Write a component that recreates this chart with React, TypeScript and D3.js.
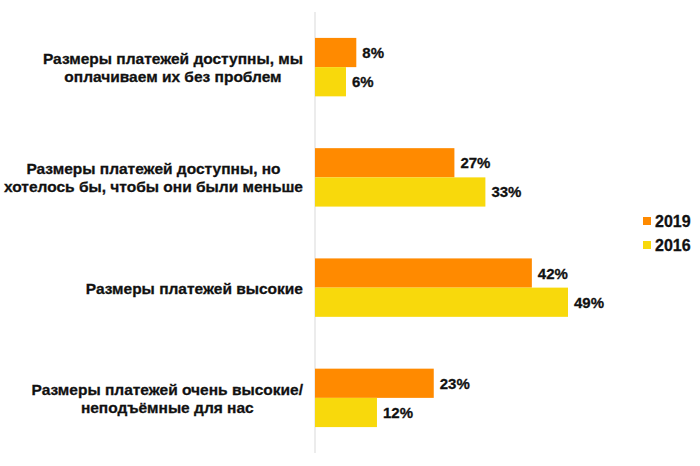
import React from "react";
import * as d3 from "d3";

const categories: string[][] = [
  ["Размеры платежей доступны, мы", "оплачиваем их без проблем"],
  ["Размеры платежей доступны, но", "хотелось бы, чтобы они были меньше"],
  ["Размеры платежей высокие"],
  ["Размеры платежей очень высокие/", "неподъёмные для нас"],
];
const seriesNames = ["2019", "2016"];
const values2019 = [8, 27, 42, 23];
const values2016 = [6, 33, 49, 12];
const colors = ["#FF8A00", "#F8D90C"];

const W = 700;
const H = 466;
const FONT = "'Liberation Sans', Arial, sans-serif";

function measure(text: string, size: number): number {
  const c = document.createElement("canvas").getContext("2d");
  if (!c) return text.length * size * 0.6;
  c.font = `bold ${size}px ${FONT}`;
  return c.measureText(text).width;
}

export default function App() {
  const x0 = 315;
  const x = d3.scaleLinear().domain([0, 49]).range([x0, 568]);
  const y = d3
    .scaleBand<number>()
    .domain(d3.range(categories.length))
    .range([12, 453])
    .paddingInner(0.47)
    .paddingOuter(0.235);
  const inner = d3
    .scaleBand<number>()
    .domain([0, 1])
    .range([0, y.bandwidth()]);
  const series = [values2019, values2016];
  const labelSize = 15.5;
  const lineH = 18;
  const rightEdge = 303;

  return (
    <svg
      width={W}
      height={H}
      style={{ position: "absolute", left: 0, top: 0, background: "#fff" }}
      fontFamily={FONT}
      fontWeight="bold"
    >
      <line x1={x0} x2={x0} y1={12} y2={453} stroke="#d9d9d9" strokeWidth={1} />
      {categories.map((lines, i) => {
        const maxW = Math.max(...lines.map((l) => measure(l, labelSize)));
        const cx = rightEdge - maxW / 2;
        const cy = (y(i) as number) + y.bandwidth() / 2;
        const startY = cy - ((lines.length - 1) * lineH) / 2;
        return (
          <text
            key={"c" + i}
            textAnchor="middle"
            fontSize={labelSize}
            fill="#111"
            stroke="#111"
            strokeWidth={0.3}
            dominantBaseline="central"
          >
            {lines.map((l, j) => (
              <tspan key={j} x={cx} y={startY + j * lineH}>
                {l}
              </tspan>
            ))}
          </text>
        );
      })}
      {series.map((vals, s) =>
        vals.map((v, i) => {
          const by = (y(i) as number) + (inner(s) as number);
          return (
            <g key={`b${s}-${i}`}>
              <rect
                x={x0}
                y={by}
                width={x(v) - x0}
                height={inner.bandwidth()}
                fill={colors[s]}
              />
              <text
                x={x(v) + 6}
                y={by + inner.bandwidth() / 2}
                dominantBaseline="central"
                fontSize={15}
                fill="#111"
                stroke="#111"
                strokeWidth={0.3}
              >
                {v + "%"}
              </text>
            </g>
          );
        })
      )}
      {seriesNames.map((n, s) => (
        <g key={"l" + s} transform={`translate(643, ${217 + s * 24})`}>
          <rect x={0} y={0} width={8} height={8} fill={colors[s]} />
          <text
            x={12}
            y={4}
            dominantBaseline="central"
            fontSize={16}
            fill="#111"
            stroke="#111"
            strokeWidth={0.3}
          >
            {n}
          </text>
        </g>
      ))}
    </svg>
  );
}
